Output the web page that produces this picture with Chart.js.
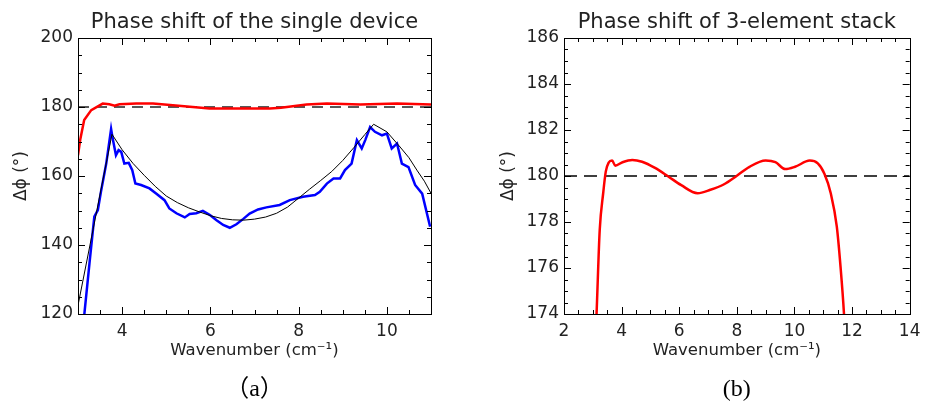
<!DOCTYPE html>
<html>
<head>
<meta charset="utf-8">
<script src="https://cdn.jsdelivr.net/npm/chart.js@4"></script>
<style>
  html, body { margin: 0; padding: 0; background: #fff; }
  .panel { position: absolute; top: 0; width: 464px; height: 405px; }
</style>
</head>
<body>
<div class="panel" style="left:0"><canvas id="chartA" width="464" height="405"></canvas></div>
<div class="panel" style="left:464px"><canvas id="chartB" width="464" height="405"></canvas></div>
<script>
const refLevel = 180;

// (a) single device: measured (blue), fit (black), corrected (red)
const aRedX = [3.0, 3.05, 3.14, 3.3, 3.45, 3.56, 3.71, 3.83, 3.94, 4.32, 4.7, 5.15, 5.6, 5.98, 7.35, 7.6, 8.18, 8.64, 9.4, 10.23, 11.0];
const aRedY = [166, 170.5, 176.2, 179.1, 180.2, 181, 180.8, 180.4, 180.8, 181, 181, 180.5, 180, 179.6, 179.6, 179.8, 180.7, 181, 180.7, 181, 180.7];

const aBlueX = [3.14, 3.26, 3.37, 3.45, 3.52, 3.64, 3.75, 3.78, 3.86, 3.92, 3.98, 4.05, 4.15, 4.23, 4.3, 4.43, 4.62, 4.77, 4.96, 5.07,
  5.23, 5.42, 5.53, 5.68, 5.83, 5.99, 6.14, 6.29, 6.44, 6.59, 6.74, 6.89, 7.08, 7.27, 7.57, 7.8, 8.1, 8.37, 8.48, 8.64,
  8.79, 8.94, 9.05, 9.2, 9.32, 9.43, 9.51, 9.62, 9.73, 9.89, 10.0, 10.11, 10.23, 10.34, 10.49, 10.64, 10.8, 10.98];
const aBlueY = [119.5, 134.7, 148.2, 150.1, 155.4, 163.6, 173.6, 171.3, 166, 167.5, 167, 163.6, 163.8, 161.7, 157.8, 157.4, 156.4, 154.9, 153, 150.6,
  149.2, 148, 149, 149.2, 149.9, 148.7, 147.2, 145.8, 145.0, 146.0, 147.5, 149.1, 150.3, 150.9, 151.6, 153, 154, 154.5, 155.4, 157.8,
  159.3, 159.3, 161.7, 163.6, 170.4, 168, 170.4, 174.2, 172.8, 171.8, 172.3, 168, 169.4, 163.6, 162.6, 157.4, 154.9, 145.3];

const aFitX = [3.0, 3.77, 4.0, 4.25, 4.5, 4.75, 5.0, 5.25, 5.5, 5.75, 6.0, 6.25, 6.5, 6.75, 7.0, 7.25, 7.5, 7.75, 8.0,
  8.25, 8.5, 8.75, 9.0, 9.25, 9.5, 9.7, 10.0, 10.3, 10.5, 10.68, 10.85, 11.0];
const aFitY = [122.5, 172.1, 167.6, 163.6, 160.2, 157.0, 154.2, 152.3, 150.8, 149.6, 148.5, 147.7, 147.3, 147.2, 147.5, 148.1, 149.2, 151.0, 153.6,
  156.2, 158.7, 161.3, 164.5, 168.2, 172.0, 175.0, 172.8, 168.4, 165.3, 161.7, 158.5, 155.0];

const aXLabels = [4, 6, 8, 10];
const aYLabels = [120, 140, 160, 180, 200];

// (b) 3-element stack
const bRedX = [3.08, 3.13, 3.24, 3.36, 3.45, 3.55, 3.67, 3.78, 4.03, 4.37, 4.71, 5.16, 5.62, 6.07, 6.64, 7.08, 7.54, 7.99,
  8.44, 9.0, 9.34, 9.68, 10.02, 10.53, 10.81, 11.04, 11.26, 11.47, 11.6, 11.72, 11.76];
const bRedY = [172.5, 174, 177.65, 179.25, 180.19, 180.58, 180.67, 180.45, 180.6, 180.7, 180.62, 180.35, 179.98, 179.6, 179.25, 179.4, 179.63, 180.0,
  180.4, 180.67, 180.6, 180.3, 180.4, 180.67, 180.55, 180.1, 179.25, 177.8, 176.05, 174, 173];

const bXLabels = [2, 4, 6, 8, 10, 12, 14];
const bYLabels = [174, 176, 178, 180, 182, 184, 186];

const textColor = "#222";
const sansFont = "'DejaVu Sans', sans-serif";

const toPoints = (xs, ys) => xs.map((x, i) => ({ x, y: ys[i] }));

// IDL-style box with inward ticks on all four sides
const framePlugin = {
  id: "frame",
  afterDatasetsDraw(chart) {
    const { ctx, chartArea: a, scales } = chart;
    ctx.save();
    ctx.strokeStyle = "#000";
    ctx.lineWidth = 1;
    ctx.beginPath();
    scales.x.ticks.forEach((t) => {
      const px = Math.round(scales.x.getPixelForValue(t.value)) + 0.5;
      const len = t.label !== "" ? 7 : 4;
      ctx.moveTo(px, a.bottom);
      ctx.lineTo(px, a.bottom - len);
      ctx.moveTo(px, a.top);
      ctx.lineTo(px, a.top + len);
    });
    scales.y.ticks.forEach((t) => {
      const py = Math.round(scales.y.getPixelForValue(t.value)) + 0.5;
      const len = t.label !== "" ? 7 : 4;
      ctx.moveTo(a.left, py);
      ctx.lineTo(a.left + len, py);
      ctx.moveTo(a.right, py);
      ctx.lineTo(a.right - len, py);
    });
    ctx.stroke();
    ctx.strokeRect(Math.round(a.left) + 0.5, Math.round(a.top) + 0.5,
      Math.round(a.right - a.left), Math.round(a.bottom - a.top));
    ctx.restore();
  },
};

function makeChart(id, cfg) {
  const tickFont = { family: sansFont, size: 17 };
  return new Chart(document.getElementById(id), {
    type: "line",
    data: { datasets: cfg.datasets },
    options: {
      responsive: false,
      animation: false,
      layout: { padding: { left: 0, right: cfg.padRight, top: 0, bottom: 1 } },
      plugins: {
        legend: { display: false },
        tooltip: { enabled: false },
        title: {
          display: true,
          text: cfg.title,
          fullSize: false,
          color: textColor,
          font: { family: sansFont, size: 21, weight: "normal" },
          padding: { top: 10, bottom: 2.8 },
        },
        subtitle: {
          display: true,
          position: "bottom",
          text: cfg.label,
          fullSize: false,
          color: "#000",
          font: { family: "'Liberation Serif', 'Noto Sans CJK SC', serif", size: 24 },
          padding: { top: 14.6, bottom: 0 },
        },
      },
      scales: {
        x: {
          type: "linear",
          min: cfg.xMin,
          max: cfg.xMax,
          afterFit: (s) => { s.height = 46.6; },
          grid: { display: false, drawTicks: false },
          border: { display: false },
          ticks: {
            stepSize: 0.5,
            autoSkip: false,
            maxRotation: 0,
            padding: 7.5,
            color: textColor,
            font: tickFont,
            callback: (v) => (cfg.xLabels.includes(v) ? String(v) : ""),
          },
          title: {
            display: true,
            text: "Wavenumber (cm⁻¹)",
            color: textColor,
            font: { family: sansFont, size: 16.5 },
            padding: 0,
          },
        },
        y: {
          min: cfg.yMin,
          max: cfg.yMax,
          afterFit: (s) => { s.width = cfg.yWidth; },
          grid: { display: false, drawTicks: false },
          border: { display: false },
          ticks: {
            stepSize: cfg.yStep,
            autoSkip: false,
            padding: 5,
            color: textColor,
            font: tickFont,
            callback: (v) => (cfg.yLabels.includes(v) ? String(v) : ""),
          },
          title: {
            display: true,
            text: "Δϕ (°)",
            color: textColor,
            font: { family: sansFont, size: 17 },
            padding: { top: cfg.yTitlePad, bottom: 0 },
          },
        },
      },
    },
    plugins: [framePlugin],
  });
}

const lineStyle = { pointRadius: 0, tension: 0, fill: false };

makeChart("chartA", {
  title: "Phase shift of the single device",
  label: "（a）",
  padRight: 33,
  yWidth: 78,
  yTitlePad: 11,
  xMin: 3, xMax: 11, xLabels: aXLabels,
  yMin: 120, yMax: 200, yStep: 5, yLabels: aYLabels,
  datasets: [
    { ...lineStyle, data: toPoints(aRedX, aRedY), borderColor: "#ff0000", borderWidth: 2.5 },
    { ...lineStyle, data: toPoints(aFitX, aFitY), borderColor: "#000000", borderWidth: 1 },
    { ...lineStyle, data: toPoints(aBlueX, aBlueY), borderColor: "#0000ff", borderWidth: 2.5 },
    { ...lineStyle, data: [{ x: 3, y: refLevel }, { x: 11, y: refLevel }], borderColor: "#222222", borderWidth: 1.5, borderDash: [11, 7] },
  ],
});

makeChart("chartB", {
  title: "Phase shift of 3-element stack",
  label: "(b)",
  padRight: 10,
  yWidth: 100,
  yTitlePad: 34,
  xMin: 2, xMax: 14, xLabels: bXLabels,
  yMin: 174, yMax: 186, yStep: 0.5, yLabels: bYLabels,
  datasets: [
    { ...lineStyle, data: toPoints(bRedX, bRedY), borderColor: "#ff0000", borderWidth: 2.5, cubicInterpolationMode: "monotone" },
    { ...lineStyle, data: [{ x: 2, y: refLevel }, { x: 14, y: refLevel }], borderColor: "#000000", borderWidth: 1.5, borderDash: [13, 7] },
  ],
});
</script>
</body>
</html>
